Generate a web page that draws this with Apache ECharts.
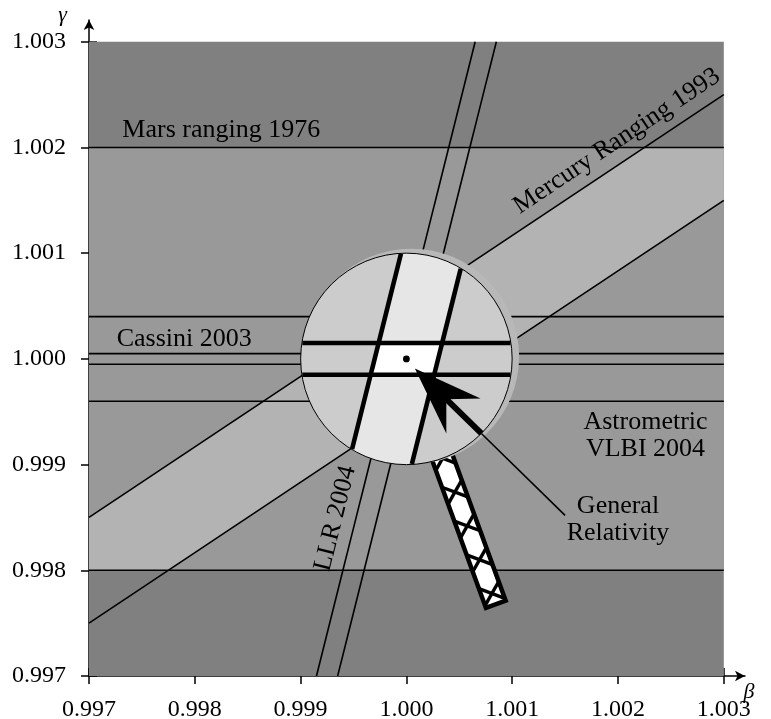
<!DOCTYPE html>
<html>
<head>
<meta charset="utf-8">
<script src="https://cdn.jsdelivr.net/npm/echarts@6/dist/echarts.min.js"></script>
<style>
  html, body { margin: 0; padding: 0; background: #fff; }
  #chart { width: 771px; height: 719px; }
</style>
</head>
<body>
<div id="chart"></div>
<script>
// Tick values of the PPN parameters: beta (horizontal) and gamma (vertical)
const betaTicks = [0.997, 0.998, 0.999, 1.000, 1.001, 1.002, 1.003];
const gammaTicks = [0.997, 0.998, 0.999, 1.000, 1.001, 1.002, 1.003];
const plotBox = [0.997, 1.003];

// Bounds on gamma alone (lower, upper)
const marsRanging1976 = [0.998, 1.002];
const vlbi2004 = [0.9996, 1.0004];
const cassini2003 = [0.99995, 1.00005];

// Slanted bounds, as [beta, gamma] end points
const mercuryUpper = [[0.997, 0.9985], [1.003, 1.0025]];
const mercuryLower = [[0.997, 0.9975], [1.003, 1.0015]];
const llrLeft = [[0.99915, 0.997], [1.00065, 1.003]];
const llrRight = [[0.99935, 0.997], [1.00085, 1.003]];

// General Relativity point, the magnifying lens and the pointer to the caption
const generalRelativity = [1.000, 1.000];
const lensRadius = 0.001;
const lensZoom = 3;
const arrowTip = [1.00008, 0.99991];
const pointerEnd = [1.0015, 0.99852];
const handleSpan = [0.85, 2.47];   // start / end of the handle, in lens radii
const handleAngle = -70;           // degrees in the beta-gamma plane

// Captions
const captions = [
  { text: 'Mars ranging 1976', at: [0.99825, 1.00216], angle: 0 },
  { text: 'Mercury Ranging 1993', at: [1.00199, 1.00206], angle: 33.69 },
  { text: 'Cassini 2003', at: [0.99790, 1.00019], angle: 0 },
  { text: 'Astrometric\nVLBI 2004', at: [1.00226, 0.99927], angle: 0 },
  { text: 'LLR 2004', at: [0.99933, 0.99849], angle: 75.96 },
  { text: 'General\nRelativity', at: [1.0020, 0.99848], angle: 0 }
];

const SERIF = 'Liberation Serif';
const rad = d => d * Math.PI / 180;

// ---- geometry helpers (pixel space) ----
function signedArea(poly) {
  let a = 0;
  for (let i = 0; i < poly.length; i++) {
    const p = poly[i], q = poly[(i + 1) % poly.length];
    a += p[0] * q[1] - q[0] * p[1];
  }
  return a / 2;
}
function clipConvex(subject, clip) {
  let out = subject.slice();
  const s = signedArea(clip) > 0 ? 1 : -1;
  for (let i = 0; i < clip.length && out.length; i++) {
    const a = clip[i], b = clip[(i + 1) % clip.length];
    const side = p => s * ((b[0] - a[0]) * (p[1] - a[1]) - (b[1] - a[1]) * (p[0] - a[0]));
    const input = out;
    out = [];
    for (let j = 0; j < input.length; j++) {
      const p = input[j], q = input[(j + 1) % input.length];
      const dp = side(p), dq = side(q);
      if (dp >= 0) out.push(p);
      if ((dp >= 0) !== (dq >= 0)) {
        const t = dp / (dp - dq);
        out.push([p[0] + t * (q[0] - p[0]), p[1] + t * (q[1] - p[1])]);
      }
    }
  }
  return out;
}
function circlePolygon(c, r, n) {
  const pts = [];
  for (let i = 0; i < n; i++) {
    const a = 2 * Math.PI * i / n;
    pts.push([c[0] + r * Math.cos(a), c[1] + r * Math.sin(a)]);
  }
  return pts;
}
function clipSegmentToCircle(p, q, c, r) {
  const d = [q[0] - p[0], q[1] - p[1]], f = [p[0] - c[0], p[1] - c[1]];
  const A = d[0] * d[0] + d[1] * d[1];
  const B = 2 * (f[0] * d[0] + f[1] * d[1]);
  const C = f[0] * f[0] + f[1] * f[1] - r * r;
  const disc = B * B - 4 * A * C;
  if (disc <= 0) return null;
  const s = Math.sqrt(disc);
  const t0 = Math.max((-B - s) / (2 * A), 0), t1 = Math.min((-B + s) / (2 * A), 1);
  if (t0 >= t1) return null;
  return [[p[0] + t0 * d[0], p[1] + t0 * d[1]], [p[0] + t1 * d[0], p[1] + t1 * d[1]]];
}
const polygon = (points, fill) => ({ type: 'polygon', shape: { points }, style: { fill, stroke: null } });
const segment = (a, b, width) => ({
  type: 'line', shape: { x1: a[0], y1: a[1], x2: b[0], y2: b[1] },
  style: { stroke: '#000', lineWidth: width, fill: null }
});

// ---- filled regions: outside Mars bound, Mars band, Mercury band inside Mars band ----
function renderFields(params, api) {
  const box = [[plotBox[0], plotBox[0]], [plotBox[1], plotBox[0]], [plotBox[1], plotBox[1]], [plotBox[0], plotBox[1]]].map(api.coord);
  const mars = [[plotBox[0], marsRanging1976[0]], [plotBox[1], marsRanging1976[0]],
                [plotBox[1], marsRanging1976[1]], [plotBox[0], marsRanging1976[1]]].map(api.coord);
  const mercury = [mercuryUpper[0], mercuryUpper[1], mercuryLower[1], mercuryLower[0]].map(api.coord);
  return {
    type: 'group',
    children: [
      polygon(box, '#808080'),
      polygon(mars, '#999999'),
      polygon(clipConvex(mercury, mars), '#b3b3b3')
    ]
  };
}

// ---- magnifying lens around the General Relativity point ----
function renderLens(params, api) {
  const C = api.coord(generalRelativity);
  const size = api.size([lensRadius, lensRadius]);
  const r = (size[0] + size[1]) / 2;
  const children = [];

  // handle, with cross hatching
  const dir = [Math.cos(rad(handleAngle)), Math.sin(rad(handleAngle))];
  const far = api.coord([generalRelativity[0] + dir[0] * lensRadius, generalRelativity[1] + dir[1] * lensRadius]);
  const len = Math.hypot(far[0] - C[0], far[1] - C[1]);
  const u = [(far[0] - C[0]) / len, (far[1] - C[1]) / len];
  const v = [-u[1], u[0]];
  const W = 21, P = 36;
  const dStart = handleSpan[0] * r, dEnd = handleSpan[1] * r;
  const at = (d, w) => [C[0] + u[0] * d + v[0] * w, C[1] + u[1] * d + v[1] * w];
  const rect = [at(dStart, -W / 2), at(dEnd, -W / 2), at(dEnd, W / 2), at(dStart, W / 2)];
  children.push(polygon(rect, '#ffffff'));
  for (let k = -1; r + k * P - P / 4 < dEnd; k++) {
    const d0 = r + k * P - P / 4, d1 = r + k * P + P / 4;
    [[-W / 2, W / 2], [W / 2, -W / 2]].forEach(([w0, w1]) => {
      let t0 = Math.max(0, (dStart - d0) / (d1 - d0)), t1 = Math.min(1, (dEnd - d0) / (d1 - d0));
      if (t0 >= t1) return;
      const a = at(d0 + t0 * (d1 - d0), w0 + t0 * (w1 - w0));
      const b = at(d0 + t1 * (d1 - d0), w0 + t1 * (w1 - w0));
      children.push(segment(a, b, 3.4));
    });
  }
  children.push({ type: 'polygon', shape: { points: rect }, style: { fill: null, stroke: '#000', lineWidth: 4.5, lineJoin: 'miter' } });

  // rim and lens body
  children.push({ type: 'circle', shape: { cx: C[0] + 5, cy: C[1] - 2.5, r: r + 2 }, style: { fill: '#b8b8b8' } });
  children.push({ type: 'circle', shape: { cx: C[0], cy: C[1], r }, style: { fill: '#cccccc' } });

  // magnified view of the LLR and Cassini bounds
  const mag = p => api.coord([generalRelativity[0] + lensZoom * (p[0] - generalRelativity[0]),
                              generalRelativity[1] + lensZoom * (p[1] - generalRelativity[1])]);
  const disk = circlePolygon(C, r, 240);
  const llrBand = [llrLeft[0], llrLeft[1], llrRight[1], llrRight[0]].map(mag);
  const cassBand = [[plotBox[0], cassini2003[0]], [plotBox[1], cassini2003[0]],
                    [plotBox[1], cassini2003[1]], [plotBox[0], cassini2003[1]]].map(mag);
  children.push(polygon(clipConvex(llrBand, disk), '#e6e6e6'));
  children.push(polygon(clipConvex(clipConvex(llrBand, cassBand), disk), '#ffffff'));
  const thick = [
    [llrLeft[0], llrLeft[1]], [llrRight[0], llrRight[1]],
    [[plotBox[0], cassini2003[0]], [plotBox[1], cassini2003[0]]],
    [[plotBox[0], cassini2003[1]], [plotBox[1], cassini2003[1]]]
  ];
  thick.forEach(([a, b]) => {
    const s = clipSegmentToCircle(mag(a), mag(b), C, r - 0.5);
    if (s) children.push(segment(s[0], s[1], 4.6));
  });
  children.push({ type: 'circle', shape: { cx: C[0], cy: C[1], r }, style: { fill: null, stroke: '#000', lineWidth: 1 } });
  children.push({ type: 'circle', shape: { cx: C[0], cy: C[1], r: 3.4 }, style: { fill: '#000' } });

  // arrow pointing at General Relativity, with its leader to the caption
  const T = api.coord(arrowTip), E = api.coord(pointerEnd);
  const el = Math.hypot(E[0] - T[0], E[1] - T[1]);
  const a = [(E[0] - T[0]) / el, (E[1] - T[1]) / el], b = [-a[1], a[0]];
  const pt = (s, w) => [T[0] + a[0] * s + b[0] * w, T[1] + a[1] * s + b[1] * w];
  const exit = clipSegmentToCircle(T, E, C, r)[1];
  children.push(segment(pt(40, 0), exit, 6));
  children.push(polygon([T, pt(68, 24.5), pt(44, 0), pt(68, -24.5)], '#000'));
  children.push(segment(exit, E, 1.6));

  return { type: 'group', children };
}

// ---- captions placed in data coordinates ----
function renderCaptions(params, api) {
  return {
    type: 'group',
    children: captions.map(c => {
      const p = api.coord(c.at);
      return {
        type: 'text', x: p[0], y: p[1], rotation: rad(c.angle),
        style: {
          text: c.text, x: 0, y: 0, fill: '#000',
          fontSize: 26, fontFamily: SERIF,
          align: 'center', verticalAlign: 'middle',
          textAlign: 'center', textVerticalAlign: 'middle', lineHeight: 27
        }
      };
    })
  };
}

const boundLine = (data) => ({
  type: 'line', data, symbol: 'none', showSymbol: false, silent: true, clip: false, z: 2,
  lineStyle: { color: '#000', width: 1.6 }, animation: false
});
const levelLines = [...marsRanging1976, ...vlbi2004, ...cassini2003]
  .map(g => boundLine([[plotBox[0], g], [plotBox[1], g]]));

const axisFont = { fontFamily: SERIF, fontSize: 24, color: '#000' };
const tickStyle = { color: '#000', width: 1.5 };

const chart = echarts.init(document.getElementById('chart'), null, { renderer: 'canvas' });
chart.setOption({
  animation: false,
  backgroundColor: '#ffffff',
  textStyle: { fontFamily: SERIF },
  grid: { left: 89, right: 26, top: 20, bottom: 43, containLabel: false, outerBoundsMode: 'none' },
  xAxis: [
    {
      type: 'value', min: 0.997, max: 1.0032004, position: 'bottom',
      name: 'β', nameLocation: 'end', nameGap: 4, nameMoveOverlap: false,
      nameTextStyle: { fontFamily: SERIF, fontSize: 22, fontStyle: 'italic', color: '#000', align: 'center', verticalAlign: 'top', padding: [5, 0, 0, 0] },
      axisLine: { show: true, onZero: false, symbol: ['none', 'arrow'], symbolSize: [8, 10], lineStyle: { color: '#000', width: 1.5 } },
      axisTick: { show: true, length: 8, customValues: betaTicks, lineStyle: tickStyle },
      axisLabel: { show: true, customValues: betaTicks, margin: 22, formatter: v => v.toFixed(3), ...axisFont },
      splitLine: { show: false }
    },
    {
      type: 'value', min: 0.997, max: 1.0032004, position: 'bottom', offset: 0,
      axisLine: { show: false, onZero: false },
      axisTick: { show: true, inside: true, length: 8, customValues: betaTicks, lineStyle: tickStyle },
      axisLabel: { show: false }, splitLine: { show: false }
    }
  ],
  yAxis: [
    {
      type: 'value', min: 0.997, max: 1.0032062, position: 'left',
      name: 'γ', nameLocation: 'end', nameGap: 5, nameMoveOverlap: false,
      nameTextStyle: { fontFamily: SERIF, fontSize: 22, fontStyle: 'italic', color: '#000', align: 'right', verticalAlign: 'middle', padding: [0, 22, 0, 0] },
      axisLine: { show: true, onZero: false, symbol: ['none', 'arrow'], symbolSize: [8, 10], lineStyle: { color: '#000', width: 1.5 } },
      axisTick: { show: true, length: 8, customValues: gammaTicks, lineStyle: tickStyle },
      axisLabel: { show: true, customValues: gammaTicks, margin: 23, formatter: v => v.toFixed(3), ...axisFont },
      splitLine: { show: false }
    },
    {
      type: 'value', min: 0.997, max: 1.0032062, position: 'left', offset: 0,
      axisLine: { show: false, onZero: false },
      axisTick: { show: true, inside: true, length: 8, customValues: gammaTicks, lineStyle: tickStyle },
      axisLabel: { show: false }, splitLine: { show: false }
    }
  ],
  series: [
    { type: 'custom', name: 'fields', data: [[1, 1]], renderItem: renderFields, clip: false, silent: true, z: 1 },
    ...levelLines,
    boundLine(mercuryUpper), boundLine(mercuryLower),
    boundLine(llrLeft), boundLine(llrRight),
    { type: 'custom', name: 'lens', data: [[1, 1]], renderItem: renderLens, clip: false, silent: true, z: 3 },
    { type: 'custom', name: 'captions', data: [[1, 1]], renderItem: renderCaptions, clip: false, silent: true, z: 4 }
  ]
});
</script>
</body>
</html>
